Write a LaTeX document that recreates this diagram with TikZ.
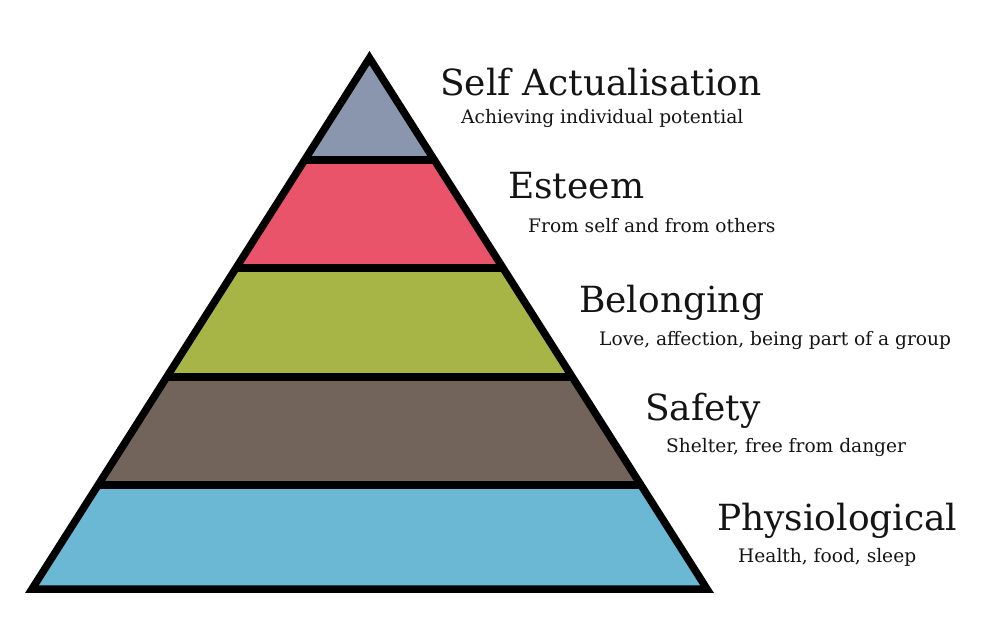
\documentclass[tikz,border=0pt]{standalone}
\usepackage{fontspec}
\setmainfont{DejaVu Serif}
\usetikzlibrary{calc}
\definecolor{cTop}{HTML}{8A96AD}
\definecolor{cEst}{HTML}{E9546A}
\definecolor{cBel}{HTML}{A6B546}
\definecolor{cSaf}{HTML}{72645A}
\definecolor{cPhy}{HTML}{6BB8D5}
\tikzset{
  outline/.style={line width=7.5pt, line join=miter, black},
  title/.style={anchor=base west, inner sep=0pt, font=\fontsize{36}{40}\selectfont, text=black!92},
  sub/.style={anchor=base west, inner sep=0pt, font=\fontsize{18.6}{22}\selectfont, text=black!92},
}
\begin{document}
\begin{tikzpicture}[x=1pt,y=-1pt]
\useasboundingbox (0,0) rectangle (990,618);
\coordinate (apex) at (369.5,58);
\coordinate (bl) at (32,589);
\coordinate (br) at (707,589);
\foreach \n/\t in {a/0.1921,b/0.3955,c/0.6008,d/0.8041}{
  \coordinate (l\n) at ($(apex)!\t!(bl)$);
  \coordinate (r\n) at ($(apex)!\t!(br)$);
}
\fill[cTop] (apex) -- (ra) -- (la) -- cycle;
\fill[cEst] (la) -- (ra) -- (rb) -- (lb) -- cycle;
\fill[cBel] (lb) -- (rb) -- (rc) -- (lc) -- cycle;
\fill[cSaf] (lc) -- (rc) -- (rd) -- (ld) -- cycle;
\fill[cPhy] (ld) -- (rd) -- (br) -- (bl) -- cycle;
\draw[outline] (la) -- (ra) (lb) -- (rb) (lc) -- (rc) (ld) -- (rd);
\draw[outline] (apex) -- (br) -- (bl) -- cycle;
\node[title] (t1) at (440,95) {Self Actualisation};
\node[sub] (s1) at (461,123) {Achieving individual potential};
\node[title] (t2) at (508,198) {Esteem};
\node[sub] (s2) at (528,232) {From self and from others};
\node[title] (t3) at (579,312) {Belonging};
\node[sub] (s3) at (599,345) {Love, affection, being part of a group};
\node[title] (t4) at (645,420) {Safety};
\node[sub] (s4) at (666,452) {Shelter, free from danger};
\node[title] (t5) at (717,530) {Physiological};
\node[sub] (s5) at (738,562) {Health, food, sleep};
\end{tikzpicture}
\end{document}
